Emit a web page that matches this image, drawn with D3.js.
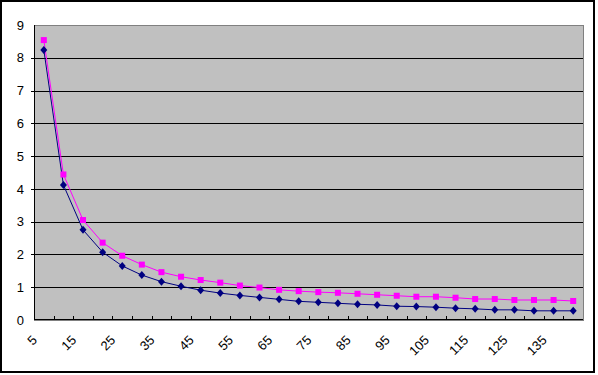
<!DOCTYPE html>
<html>
<head>
<meta charset="utf-8">
<script src="https://cdn.jsdelivr.net/npm/d3@7"></script>
<style>
  body { margin: 0; background: #fff; }
  svg { display: block; font-family: "Liberation Sans", Arial, sans-serif; }
</style>
</head>
<body>
<div id="chart"></div>
<script>
// Data
const categories = [5, 10, 15, 20, 25, 30, 35, 40, 45, 50, 55, 60, 65, 70, 75, 80, 85, 90, 95, 100, 105, 110, 115, 120, 125, 130, 135, 140];
const seriesBlue = [8.24, 4.12, 2.75, 2.07, 1.65, 1.37, 1.17, 1.03, 0.91, 0.82, 0.75, 0.69, 0.63, 0.57, 0.54, 0.51, 0.48, 0.46, 0.42, 0.41, 0.39, 0.36, 0.34, 0.31, 0.31, 0.28, 0.28, 0.28];
const seriesPink = [8.54, 4.44, 3.05, 2.36, 1.96, 1.69, 1.46, 1.32, 1.22, 1.14, 1.05, 0.99, 0.92, 0.88, 0.85, 0.83, 0.80, 0.77, 0.74, 0.71, 0.71, 0.68, 0.64, 0.64, 0.61, 0.61, 0.61, 0.58];
const yTicks = [0, 1, 2, 3, 4, 5, 6, 7, 8, 9];

const width = 598;
const height = 375;
const plot = { left: 34, right: 583, top: 25, bottom: 320 };

const svg = d3.select("#chart")
    .append("svg")
    .attr("width", width)
    .attr("height", height);

// Outer chart frame
svg.append("rect")
    .attr("x", 1).attr("y", 1)
    .attr("width", 593).attr("height", 371)
    .attr("fill", "#fff")
    .attr("stroke", "#000")
    .attr("stroke-width", 2);

// Scales
const x = d3.scaleBand()
    .domain(categories)
    .range([plot.left, plot.right])
    .paddingInner(0).paddingOuter(0);

const y = d3.scaleLinear()
    .domain([0, 9])
    .range([plot.bottom, plot.top]);

const cx = d => x(d) + x.bandwidth() / 2;

// Plot area background
svg.append("rect")
    .attr("x", plot.left + 0.5).attr("y", plot.top + 0.5)
    .attr("width", plot.right - plot.left).attr("height", plot.bottom - plot.top)
    .attr("fill", "#c0c0c0")
    .attr("stroke", "#808080")
    .attr("stroke-width", 1);

// Gridlines
svg.append("g")
    .selectAll("line")
    .data(yTicks.filter(d => d > 0 && d < 9))
    .join("line")
    .attr("x1", plot.left - 3)
    .attr("x2", plot.right)
    .attr("y1", d => Math.round(y(d)) + 0.5)
    .attr("y2", d => Math.round(y(d)) + 0.5)
    .attr("stroke", "#000")
    .attr("stroke-width", 1);

// Y axis line
svg.append("line")
    .attr("x1", plot.left + 0.5).attr("x2", plot.left + 0.5)
    .attr("y1", plot.top).attr("y2", plot.bottom)
    .attr("stroke", "#000");

// X axis line and inward ticks
svg.append("line")
    .attr("x1", plot.left).attr("x2", plot.right)
    .attr("y1", plot.bottom - 0.5).attr("y2", plot.bottom - 0.5)
    .attr("stroke", "#000");

svg.append("g")
    .selectAll("line")
    .data(categories)
    .join("line")
    .attr("x1", d => Math.round(x(d)) + 0.5)
    .attr("x2", d => Math.round(x(d)) + 0.5)
    .attr("y1", plot.bottom - 4)
    .attr("y2", plot.bottom)
    .attr("stroke", "#000");

// Y tick labels
svg.append("g")
    .selectAll("text")
    .data(yTicks)
    .join("text")
    .attr("x", 24)
    .attr("y", d => y(d))
    .attr("dy", "0.36em")
    .attr("text-anchor", "end")
    .attr("font-size", 13)
    .attr("fill", "#000")
    .text(d => d);

// X tick labels (every other category, rotated)
svg.append("g")
    .selectAll("text")
    .data(categories.filter((d, i) => i % 2 === 0))
    .join("text")
    .attr("transform", d => `translate(${cx(d) - 6},${341}) rotate(-45)`)
    .attr("text-anchor", "end")
    .attr("font-size", 13)
    .attr("fill", "#000")
    .text(d => d);

// Lines
const line = d3.line()
    .x((d, i) => cx(categories[i]))
    .y(d => y(d));

svg.append("path")
    .datum(seriesBlue)
    .attr("d", line)
    .attr("fill", "none")
    .attr("stroke", "#000080")
    .attr("stroke-width", 1);

svg.append("path")
    .datum(seriesPink)
    .attr("d", line)
    .attr("fill", "none")
    .attr("stroke", "#ff00ff")
    .attr("stroke-width", 1);

// Markers
svg.append("g")
    .selectAll("path")
    .data(seriesBlue)
    .join("path")
    .attr("transform", (d, i) => `translate(${cx(categories[i])},${y(d)})`)
    .attr("d", "M0,-4L3.5,0L0,4L-3.5,0Z")
    .attr("fill", "#000080");

svg.append("g")
    .selectAll("rect")
    .data(seriesPink)
    .join("rect")
    .attr("x", (d, i) => cx(categories[i]) - 3)
    .attr("y", d => y(d) - 3)
    .attr("width", 6)
    .attr("height", 6)
    .attr("fill", "#ff00ff");
</script>
</body>
</html>
